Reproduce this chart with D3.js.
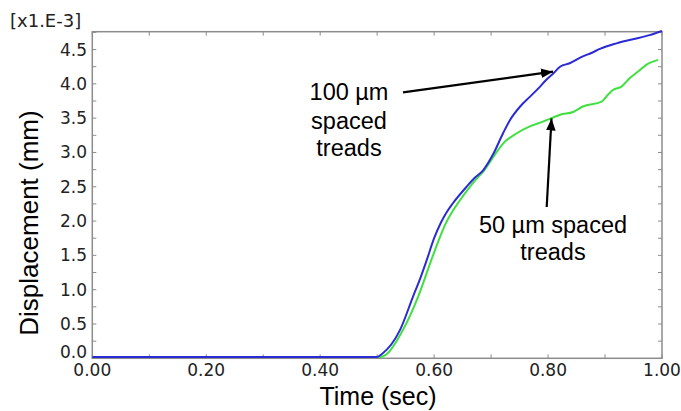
<!DOCTYPE html>
<html><head><meta charset="utf-8">
<script src="https://cdn.jsdelivr.net/npm/d3@7"></script>
<style>body{margin:0;background:#fff}svg{display:block}</style>
</head><body>
<svg id="c" width="681" height="411"></svg>
<script>
// Data (displacement in x1e-3 mm vs time in sec)
const blueT = [0.00,0.10,0.20,0.30,0.40,0.500,0.508,0.540,0.563,0.575,0.587,0.600,0.612,0.622,0.633,0.657,0.670,0.686,0.704,0.721,0.733,0.751,0.768,0.786,0.797,0.809,0.821,0.838,0.861,0.876,0.891,0.920,0.949,0.978,1.000];
const blueV = [0.02,0.02,0.02,0.02,0.02,0.02,0.06,0.41,0.90,1.15,1.43,1.75,1.98,2.13,2.26,2.50,2.62,2.74,2.98,3.28,3.47,3.67,3.81,3.96,4.06,4.15,4.25,4.30,4.40,4.45,4.51,4.59,4.65,4.71,4.77];
const greenT = [0.00,0.10,0.20,0.30,0.40,0.505,0.515,0.545,0.572,0.595,0.608,0.620,0.632,0.645,0.660,0.674,0.688,0.706,0.721,0.745,0.768,0.791,0.809,0.821,0.844,0.861,0.894,0.905,0.914,0.929,0.943,0.958,0.975,0.993];
const greenV = [0.02,0.02,0.02,0.02,0.02,0.02,0.05,0.41,0.90,1.43,1.72,1.96,2.14,2.30,2.47,2.61,2.74,2.96,3.13,3.28,3.38,3.45,3.51,3.55,3.59,3.67,3.74,3.84,3.91,3.96,4.08,4.18,4.29,4.35];
const xTicks = [0,0.2,0.4,0.6,0.8,1.0];
const xTickLabels = ["0.00","0.20","0.40","0.60","0.80","1.00"];
const yTicks = [0,0.5,1.0,1.5,2.0,2.5,3.0,3.5,4.0,4.5];
const yTickLabels = ["0.0","0.5","1.0","1.5","2.0","2.5","3.0","3.5","4.0","4.5"];

const svg = d3.select("#c");
const L=92.3, R=662, T=31.7, B=358.3;
const x = d3.scaleLinear().domain([0,1]).range([L,R]);
const y = d3.scaleLinear().domain([0,4.76]).range([B,T]);

const axisCol="#8c8c8c";
svg.append("rect").attr("x",L).attr("y",T).attr("width",R-L).attr("height",B-T)
  .attr("fill","none").attr("stroke",axisCol).attr("stroke-width",1.5);

const tk = svg.append("g").attr("stroke",axisCol).attr("stroke-width",1);
d3.range(0,1.0001,0.1).forEach(v=>{
  tk.append("line").attr("x1",x(v)).attr("x2",x(v)).attr("y1",B).attr("y2",B-4);
  tk.append("line").attr("x1",x(v)).attr("x2",x(v)).attr("y1",T).attr("y2",T+4);
});
d3.range(0,4.76,0.25).forEach(v=>{
  tk.append("line").attr("x1",L).attr("x2",L+4).attr("y1",y(v)).attr("y2",y(v));
  tk.append("line").attr("x1",R).attr("x2",R-4).attr("y1",y(v)).attr("y2",y(v));
});

const tf = "DejaVu Sans, sans-serif";
svg.append("g").selectAll("text").data(xTicks).join("text")
  .attr("x",d=>x(d)).attr("y",376).attr("text-anchor","middle")
  .attr("font-family",tf).attr("font-size",17).attr("fill","#222")
  .text((d,i)=>xTickLabels[i]);
svg.append("g").selectAll("text").data(yTicks).join("text")
  .attr("x",87).attr("y",d=>d===0 ? y(d)-0.5 : y(d)+6).attr("text-anchor","end")
  .attr("font-family",tf).attr("font-size",17).attr("fill","#222")
  .text((d,i)=>yTickLabels[i]);
svg.append("text").attr("x",10).attr("y",27).attr("font-family",tf).attr("font-size",18)
  .attr("fill","#222").text("[x1.E-3]");

const line = d3.line().x(d=>x(d[0])).y(d=>y(d[1])).curve(d3.curveMonotoneX);
svg.append("path").datum(greenT.map((t,i)=>[t,greenV[i]])).attr("d",line)
  .attr("fill","none").attr("stroke","#3fe03f").attr("stroke-width",2);
svg.append("path").datum(blueT.map((t,i)=>[t,blueV[i]])).attr("d",line)
  .attr("fill","none").attr("stroke","#2b2bd4").attr("stroke-width",2);

const af = "Liberation Sans, Arial, sans-serif";
svg.append("text").attr("x",378).attr("y",405).attr("text-anchor","middle")
  .attr("font-family",af).attr("font-size",25).attr("fill","#000").text("Time (sec)");
svg.append("text").attr("transform","translate(38,223) rotate(-90)").attr("text-anchor","middle")
  .attr("font-family",af).attr("font-size",26).attr("fill","#000").text("Displacement (mm)");

const defs = svg.append("defs");
defs.append("marker").attr("id","ah").attr("viewBox","0 0 10 10").attr("refX",10).attr("refY",5)
  .attr("markerWidth",12).attr("markerHeight",12).attr("markerUnits","userSpaceOnUse").attr("orient","auto")
  .append("path").attr("d","M0,1 L10,5 L0,9 Z").attr("fill","#000");
const ann = svg.append("g").attr("font-family",af).attr("font-size",23.5).attr("fill","#000").attr("text-anchor","middle");
[["100 µm",100],["spaced",129],["treads",156]].forEach(([s,yy])=>ann.append("text").attr("x",349).attr("y",yy).text(s));
[["50 µm spaced",233],["treads",260]].forEach(([s,yy])=>ann.append("text").attr("x",553).attr("y",yy).text(s));
svg.append("line").attr("x1",403).attr("y1",92.3).attr("x2",553).attr("y2",71.7)
  .attr("stroke","#000").attr("stroke-width",2.2).attr("marker-end","url(#ah)");
svg.append("line").attr("x1",546.7).attr("y1",207).attr("x2",551.5).attr("y2",118.5)
  .attr("stroke","#000").attr("stroke-width",2.2).attr("marker-end","url(#ah)");
</script>
</body></html>
